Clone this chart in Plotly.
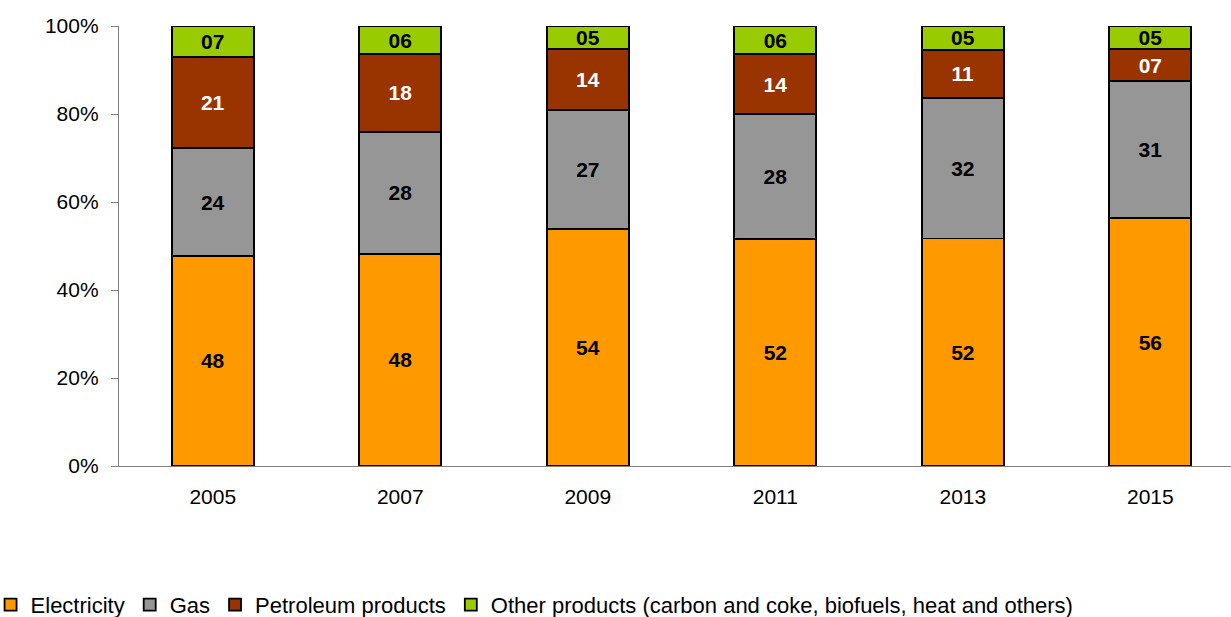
import plotly.graph_objects as go

# Final energy consumption mix by product, share of total (%)
years = ["2005", "2007", "2009", "2011", "2013", "2015"]
electricity = [47.8, 48.2, 53.9, 51.6, 51.7, 56.3]
gas = [24.4, 27.8, 27.0, 28.4, 32.0, 31.2]
petroleum = [20.8, 17.6, 13.8, 13.6, 10.9, 7.2]
other = [7.0, 6.4, 5.3, 6.4, 5.4, 5.3]

y_ticks = [0, 20, 40, 60, 80, 100]
y_tick_labels = ["0%", "20%", "40%", "60%", "80%", "100%"]

FONT = "Liberation Sans, Arial, sans-serif"

series = [
    ("Electricity", electricity, "#FF9900", "#000000"),
    ("Gas", gas, "#969696", "#000000"),
    ("Petroleum products", petroleum, "#993300", "#FFFFFF"),
    ("Other products (carbon and coke, biofuels, heat and others)", other, "#99CC00", "#000000"),
]

fig = go.Figure()
for name, vals, color, txt_color in series:
    fig.add_trace(go.Bar(
        x=years,
        y=vals,
        name=name,
        marker=dict(color=color, line=dict(color="#000000", width=1.8)),
        texttemplate="%{y:02.0f}",
        textposition="inside",
        insidetextanchor="middle",
        textangle=0,
        constraintext="none",
        textfont=dict(family=FONT, size=21, color=txt_color, weight="bold"),
        hoverinfo="skip",
    ))

fig.update_layout(
    barmode="stack",
    bargap=0.563,
    width=1231,
    height=617,
    margin=dict(l=119, r=0, t=26, b=151, autoexpand=False),
    paper_bgcolor="white",
    plot_bgcolor="white",
    font=dict(family=FONT, size=21, color="#000000"),
    uniformtext=dict(mode="show", minsize=21),
    showlegend=True,
    legend=dict(
        orientation="h",
        x=-0.1155, xanchor="left",
        y=-0.268, yanchor="top",
        font=dict(family=FONT, size=22, color="#000000"),
        traceorder="normal",
        itemclick=False,
        itemdoubleclick=False,
    ),
)

fig.update_xaxes(
    type="category",
    range=[-0.5, 5.43],
    showline=True,
    linecolor="#808080",
    linewidth=1.3,
    ticks="",
    ticklabelstandoff=12,
    tickfont=dict(family=FONT, size=21, color="#000000"),
    showgrid=False,
    zeroline=False,
    fixedrange=True,
)

fig.update_yaxes(
    range=[0, 100],
    tickmode="array",
    tickvals=y_ticks,
    ticktext=y_tick_labels,
    showline=True,
    linecolor="#808080",
    linewidth=1.3,
    ticks="outside",
    ticklen=7,
    tickcolor="#808080",
    tickwidth=1.3,
    ticklabelstandoff=8,
    tickfont=dict(family=FONT, size=21, color="#000000"),
    showgrid=False,
    zeroline=False,
    fixedrange=True,
)

fig.write_html("out.html", config={"displayModeBar": False})
